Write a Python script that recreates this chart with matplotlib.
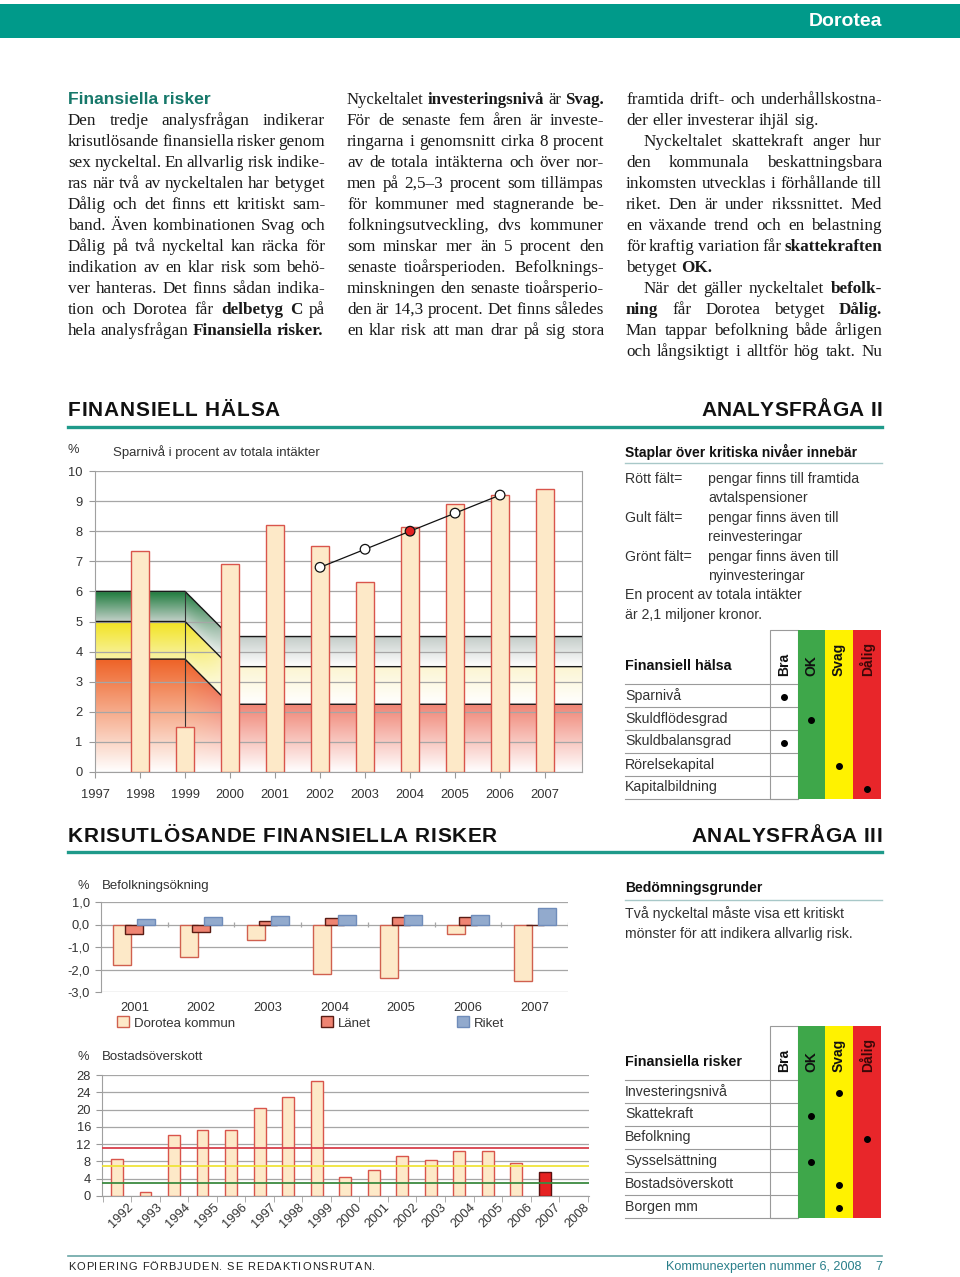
import numpy as np
import matplotlib
matplotlib.use('Agg')
import matplotlib.pyplot as plt
from matplotlib.patches import Rectangle, Patch
from matplotlib.colors import to_rgb
import matplotlib.transforms as mtransforms

# ---------------- data ----------------
spar_years = [1998, 1999, 2000, 2001, 2002, 2003, 2004, 2005, 2006, 2007]
spar_values = [7.35, 1.5, 6.9, 8.2, 7.5, 6.3, 8.15, 8.9, 9.2, 9.4]
trend_years = [2002, 2003, 2004, 2005, 2006]
trend_values = [6.8, 7.4, 8.0, 8.6, 9.2]
band_x = [1997, 1999, 2000, 2008]
red_top = [3.75, 3.75, 2.25, 2.25]
yellow_top = [5.0, 5.0, 3.5, 3.5]
green_top = [6.0, 6.0, 4.5, 4.5]

pop_years = ['2001', '2002', '2003', '2004', '2005', '2006', '2007']
pop_dorotea = [-1.79, -1.45, -0.67, -2.21, -2.38, -0.44, -2.53]
pop_lanet = [-0.42, -0.33, 0.17, 0.29, 0.35, 0.32, -0.03]
pop_riket = [0.24, 0.32, 0.36, 0.41, 0.41, 0.41, 0.73]

bost_years = [str(y) for y in range(1992, 2009)]
bost_values = [8.6, 0.9, 14.2, 15.2, 15.2, 20.4, 23.0, 26.5,
               4.5, 6.0, 9.3, 8.4, 10.4, 10.5, 7.6, 5.5]
bost_levels = [11, 7, 3]

grades = ['Bra', 'OK', 'Svag', 'Dålig']
halsa_items = ['Sparnivå', 'Skuldflödesgrad', 'Skuldbalansgrad',
               'Rörelsekapital', 'Kapitalbildning']
halsa_grades = ['Bra', 'OK', 'Bra', 'Svag', 'Dålig']
risk_items = ['Investeringsnivå', 'Skattekraft', 'Befolkning',
              'Sysselsättning', 'Bostadsöverskott', 'Borgen mm']
risk_grades = ['Svag', 'OK', 'Dålig', 'OK', 'Svag', 'Svag']

col1 = [("Den tredje analysfrågan indikerar", 'j'),
        ("krisutlösande finansiella risker genom", 'j'),
        ("sex nyckeltal. En allvarlig risk indike-", 'j'),
        ("ras när två av nyckeltalen har betyget", 'j'),
        ("Dålig och det finns ett kritiskt sam-", 'j'),
        ("band. Även kombinationen Svag och", 'j'),
        ("Dålig på två nyckeltal kan räcka för", 'j'),
        ("indikation av en klar risk som behö-", 'j'),
        ("ver hanteras. Det finns sådan indika-", 'j'),
        ("tion och Dorotea får *delbetyg* *C* på", 'j'),
        ("hela analysfrågan *Finansiella* *risker.*", 'l')]
col2 = [("Nyckeltalet *investeringsnivå* är *Svag.*", 'j'),
        ("För de senaste fem åren är investe-", 'j'),
        ("ringarna i genomsnitt cirka 8 procent", 'j'),
        ("av de totala intäkterna och över nor-", 'j'),
        ("men på 2,5–3 procent som tillämpas", 'j'),
        ("för kommuner med stagnerande be-", 'j'),
        ("folkningsutveckling, dvs kommuner", 'j'),
        ("som minskar mer än 5 procent den", 'j'),
        ("senaste tioårsperioden. Befolknings-", 'j'),
        ("minskningen den senaste tioårsperio-", 'j'),
        ("den är 14,3 procent. Det finns således", 'j'),
        ("en klar risk att man drar på sig stora", 'j')]
col3 = [("framtida drift- och underhållskostna-", 'j'),
        ("der eller investerar ihjäl sig.", 'l'),
        ("Nyckeltalet skattekraft anger hur", 'i'),
        ("den kommunala beskattningsbara", 'j'),
        ("inkomsten utvecklas i förhållande till", 'j'),
        ("riket. Den är under rikssnittet. Med", 'j'),
        ("en växande trend och en belastning", 'j'),
        ("för kraftig variation får *skattekraften*", 'j'),
        ("betyget *OK.*", 'l'),
        ("När det gäller nyckeltalet *befolk-*", 'i'),
        ("*ning* får Dorotea betyget *Dålig.*", 'j'),
        ("Man tappar befolkning både årligen", 'j'),
        ("och långsiktigt i alltför hög takt. Nu", 'j')]

# ---------------- style ----------------
SERIF = ['Liberation Serif', 'DejaVu Serif']
SANS = ['Liberation Sans', 'DejaVu Sans']
TEAL = '#009a8a'
TXT = '#333333'
GREEN, YELLOW, RED = '#3ea74a', '#fff200', '#e8262a'
BAR_FACE, BAR_EDGE = '#fde9c8', '#d9554c'

plt.rcParams['font.family'] = SANS

W, H = 960, 1277
fig = plt.figure(figsize=(9.6, 12.77), dpi=100)
page = fig.add_axes([0, 0, 1, 1])
page.set_xlim(0, W)
page.set_ylim(H, 0)
page.axis('off')
renderer = fig.canvas.get_renderer()


def axes_px(x, y, w, h):
    return fig.add_axes([x / W, 1 - (y + h) / H, w / W, h / H])


def width_of(s, **kw):
    t = page.text(0, 0, s, **kw)
    w = t.get_window_extent(renderer).width
    t.remove()
    return w


def place(tokens, x0, y, gap, **kw):
    x = x0
    for s, extra in tokens:
        page.text(x, y, s, ha='left', va='center', **kw, **extra)
        x += width_of(s, **kw, **extra) + gap


def spread(tokens, x0, x1, y, **kw):
    widths = [width_of(s, **kw, **extra) for s, extra in tokens]
    gap = (x1 - x0 - sum(widths)) / max(len(tokens) - 1, 1)
    place(tokens, x0, y, gap, **kw)


def body_column(lines, x0, x1, y0, step=21, indent=18, size=12.3):
    for i, (line, mode) in enumerate(lines):
        toks = []
        for wd in line.split(' '):
            if wd.startswith('*') and wd.endswith('*'):
                toks.append((wd.strip('*'), dict(weight='bold')))
            else:
                toks.append((wd, {}))
        y = y0 + i * step
        start = x0 + (indent if mode == 'i' else 0)
        fs = size
        # shrink a line slightly if it would not fit with a minimal word gap
        while True:
            kw = dict(family=SERIF, fontsize=fs, color='#1a1a1a')
            need = sum(width_of(s, **kw, **e) for s, e in toks) + 2.5 * (len(toks) - 1)
            if mode == 'l' or need <= x1 - start or fs < 10:
                break
            fs -= 0.2
        if mode == 'l':
            space = width_of('a a', **kw) - 2 * width_of('a', **kw)
            place(toks, start, y, space, **kw)
        else:
            spread(toks, start, x1, y, **kw)


def heading(text, x0, x1, y):
    toks = [(c, {}) for c in text]
    spread(toks, x0, x1, y, fontsize=15, weight='bold', color='#111111')


# ---------------- page furniture ----------------
page.add_patch(Rectangle((0, 4), W, 34, fc=TEAL, ec='none'))
page.text(882, 21, 'Dorotea', ha='right', va='center', color='white',
          fontsize=14, weight='bold')

page.text(68, 99, 'Finansiella risker', ha='left', va='center', color='#16786a',
          fontsize=12.6, weight='bold')
body_column(col1, 68, 325, 121)
body_column(col2, 347, 604, 100)
body_column(col3, 626, 882, 100)

heading('FINANSIELL HÄLSA', 68, 280, 411)
heading('ANALYSFRÅGA II', 701, 882, 411)
page.plot([68, 882], [427, 427], color='#1f9a8a', lw=2.4)
heading('KRISUTLÖSANDE FINANSIELLA RISKER', 68, 497, 836)
heading('ANALYSFRÅGA III', 691, 882, 836)
page.plot([68, 882], [852, 852], color='#1f9a8a', lw=2.4)

page.plot([68, 882], [1256, 1256], color='#6aa6a6', lw=1.2)
spread([(c, {}) for c in 'KOPIERING FÖRBJUDEN. SE REDAKTIONSRUTAN.'], 68, 375, 1267,
       fontsize=8, color='#222222')
page.text(862, 1267, 'Kommunexperten nummer 6, 2008', ha='right', va='center',
          fontsize=9.1, color='#2a7f8a')
page.text(882, 1267, '7', ha='right', va='center', fontsize=9, color='#2a7f8a')

# ---------------- right-side texts ----------------
lab = dict(fontsize=10.2, color=TXT, va='center', ha='left')
page.text(625, 452, 'Staplar över kritiska nivåer innebär', weight='bold',
          fontsize=10, color='#111111', va='center')
page.plot([625, 882], [463, 463], color='#a8c8c8', lw=1)
legend_rows = [('Rött fält=', 'pengar finns till framtida', 479),
               ('', 'avtalspensioner', 498),
               ('Gult fält=', 'pengar finns även till', 518),
               ('', 'reinvesteringar', 537),
               ('Grönt fält=', 'pengar finns även till', 557),
               ('', 'nyinvesteringar', 576)]
for a, b, y in legend_rows:
    page.text(625, y, a, **lab)
    page.text(708, y, b, **lab)
page.text(625, 595, 'En procent av totala intäkter', **lab)
page.text(625, 615, 'är 2,1 miljoner kronor.', **lab)

page.text(625, 888, 'Bedömningsgrunder', weight='bold', fontsize=10,
          color='#111111', va='center')
page.plot([625, 882], [900, 900], color='#a8c8c8', lw=1)
page.text(625, 914, 'Två nyckeltal måste visa ett kritiskt', **lab)
page.text(625, 934, 'mönster för att indikera allvarlig risk.', **lab)


def grade_table(items, rated, title, top, head_h=54, row_h=23):
    cols = [770, 797.5, 825, 853, 881]
    fills = ['white', GREEN, YELLOW, RED]
    bottom = top + head_h + row_h * len(items)
    for k in range(len(items) + 1):
        y = top + head_h + k * row_h
        page.plot([625, 797.5], [y, y], color='#9a9a9a', lw=0.8, zorder=1)
    for i, c in enumerate(fills):
        page.add_patch(Rectangle((cols[i], top), cols[i + 1] - cols[i], bottom - top,
                                 fc=c, ec='#9a9a9a' if i == 0 else 'none',
                                 lw=0.8, zorder=0.5 if i == 0 else 2))
    page.text(625, top + head_h - 18, title, weight='bold', fontsize=10.3,
              color='#111111', va='center')
    for g, c0, c1 in zip(grades, cols[:-1], cols[1:]):
        page.text((c0 + c1) / 2, top + head_h - 8, g, rotation=90, ha='left', va='center',
                  rotation_mode='anchor', weight='bold', fontsize=10,
                  color='#3a0808' if g == 'Dålig' else '#111111', zorder=3)
    for k, (item, g) in enumerate(zip(items, rated)):
        yc = top + head_h + row_h * (k + 0.5)
        page.text(625, yc, item, **lab)
        j = grades.index(g)
        page.plot((cols[j] + cols[j + 1]) / 2, yc + 1, 'o', color='black', ms=4, zorder=4)


grade_table(halsa_items, halsa_grades, 'Finansiell hälsa', 630)
grade_table(risk_items, risk_grades, 'Finansiella risker', 1026)

# ---------------- chart 1: Sparnivå ----------------
tick_kw = dict(colors='#999999', labelcolor=TXT, labelsize=9.3)
ax1 = axes_px(95, 471, 487, 301)
x_end = 2007.82
ax1.set_xlim(1997, x_end)
ax1.set_ylim(0, 10)

xs = np.linspace(1997, x_end, 700)
ys = np.linspace(0, 6, 500)
X, Y = np.meshgrid(xs, ys)
s = np.clip(X - 1999, 0, 1)[..., None]
rt = np.interp(X, band_x, red_top)
yt = np.interp(X, band_x, yellow_top)
gt = np.interp(X, band_x, green_top)
img = np.zeros(X.shape + (4,))
bands = [  # lower, upper, (left bottom, left top), (right bottom, right top)
    (np.zeros_like(X), rt, ('#ffffff', '#ee6226'), ('#ffffff', '#f08474')),
    (rt, yt, ('#f8f3a6', '#f2e31f'), ('#ffffff', '#fcf5d2')),
    (yt, gt, ('#c2d0c8', '#1c7a3b'), ('#ffffff', '#c3ccc8')),
]
for lo, hi, lc, rc in bands:
    t = ((Y - lo) / (hi - lo))[..., None]
    bot = (1 - s) * np.array(to_rgb(lc[0])) + s * np.array(to_rgb(rc[0]))
    topc = (1 - s) * np.array(to_rgb(lc[1])) + s * np.array(to_rgb(rc[1]))
    col = bot + np.clip(t, 0, 1) * (topc - bot)
    mask = (Y >= lo) & (Y <= hi)
    img[mask, :3] = col[mask]
    img[mask, 3] = 1
ax1.imshow(img, extent=[1997, x_end, 0, 6], origin='lower', aspect='auto',
           zorder=0.1, interpolation='bilinear')
for tops in (red_top, yellow_top, green_top):
    ax1.plot(band_x, tops, color='#1a1a1a', lw=1, zorder=1)
ax1.plot([band_x[1], band_x[1]], [0, green_top[1]], color='#333333', lw=0.8, zorder=1)

ax1.bar(spar_years, spar_values, width=0.4, color=BAR_FACE, edgecolor=BAR_EDGE,
        lw=1, zorder=3)
ax1.plot(trend_years, trend_values, color='#111111', lw=0.9, zorder=4)
mfc = ['#e32222' if y == 2004 else 'white' for y in trend_years]
ax1.scatter(trend_years, trend_values, s=48, c=mfc, edgecolors='#111111',
            linewidths=0.9, zorder=5)

ax1.set_yticks(range(0, 11))
ax1.set_xticks(range(1997, 2008))
ax1.yaxis.grid(True, color='#a6a6a6', lw=0.9)
ax1.set_axisbelow(True)
ax1.tick_params(axis='y', length=4, pad=5, **tick_kw)
ax1.tick_params(axis='x', length=4, pad=8, **tick_kw)
for side in ('left', 'bottom', 'right'):
    ax1.spines[side].set_color('#a0a0a0')
ax1.spines['top'].set_visible(False)
page.text(68, 450, '%', fontsize=9.3, color=TXT, va='center')
page.text(113, 452, 'Sparnivå i procent av totala intäkter', fontsize=9.5,
          color=TXT, va='center')

# ---------------- chart 2: Befolkningsökning ----------------
ax2 = axes_px(101, 902, 467, 90)
pos = np.arange(len(pop_years))
ax2.bar(pos - 0.18, pop_dorotea, width=0.27, color=BAR_FACE, edgecolor='#d0604f',
        lw=1, zorder=3)
ax2.bar(pos, pop_lanet, width=0.27, color='#ef8472', edgecolor='#5a1c14', lw=1, zorder=4)
ax2.bar(pos + 0.18, pop_riket, width=0.27, color='#92aacd', edgecolor='#6f8cba',
        lw=1, zorder=5)
ax2.set_xlim(-0.5, len(pop_years) - 0.5)
ax2.set_ylim(-3, 1)
ax2.set_yticks([1, 0, -1, -2, -3])
ax2.set_yticklabels(['1,0', '0,0', '-1,0', '-2,0', '-3,0'])
ax2.set_xticks(pos)
ax2.set_xticklabels(pop_years)
ax2.yaxis.grid(True, color='#a6a6a6', lw=0.9)
ax2.set_axisbelow(True)
ax2.vlines(np.arange(-0.5, len(pop_years)), -0.12, 0.12, color='#a6a6a6', lw=0.9, zorder=1)
ax2.tick_params(axis='y', length=4, pad=4, **tick_kw)
ax2.tick_params(axis='x', length=0, pad=7, **tick_kw)
for side in ('top', 'right', 'bottom'):
    ax2.spines[side].set_visible(False)
ax2.spines['left'].set_color('#a0a0a0')
page.text(77, 886, '%', fontsize=9.3, color=TXT, va='center')
page.text(102, 886, 'Befolkningsökning', fontsize=9.5, color=TXT, va='center')
handles = [Patch(fc=BAR_FACE, ec='#d0604f'), Patch(fc='#ef8472', ec='#5a1c14'),
           Patch(fc='#92aacd', ec='#6f8cba')]
fig.legend(handles, ['Dorotea kommun', 'Länet', 'Riket'], loc='center left',
           bbox_to_anchor=(117 / W, 1 - 1023 / H), ncol=3, frameon=False,
           handlelength=0.9, handleheight=0.9, handletextpad=0.4, columnspacing=6.5,
           fontsize=9.5, borderpad=0, borderaxespad=0, labelcolor=TXT)

# ---------------- chart 3: Bostadsöverskott ----------------
ax3 = axes_px(102, 1075, 487, 121)
bpos = np.arange(len(bost_values))
bcol = [BAR_FACE] * len(bost_values)
bedge = [BAR_EDGE] * len(bost_values)
bcol[-1], bedge[-1] = '#e52222', '#5a1010'
ax3.bar(bpos, bost_values, width=0.41, color=bcol, edgecolor=bedge, lw=1, zorder=3)
for lvl, c in zip(bost_levels, ['#d8404c', '#efe43a', '#3c8a40']):
    ax3.axhline(lvl, color=c, lw=1.3, zorder=4)
ax3.set_xlim(-0.53, len(bost_years) - 0.45)
ax3.set_ylim(0, 28)
ax3.set_yticks(range(0, 29, 4))
ax3.set_xticks(np.arange(len(bost_years)))
ax3.set_xticklabels(bost_years, rotation=45, ha='right', va='top', rotation_mode='anchor')
ax3.set_xticks(np.arange(-0.5, len(bost_years)), minor=True)
ax3.yaxis.grid(True, color='#a6a6a6', lw=0.9)
ax3.set_axisbelow(True)
ax3.tick_params(axis='y', length=4, pad=4, **tick_kw)
ax3.tick_params(axis='x', which='major', length=0, pad=4, **tick_kw)
ax3.tick_params(axis='x', which='minor', length=4, colors='#a0a0a0')
shift = mtransforms.ScaledTranslation(10 / 100, 0, fig.dpi_scale_trans)
for t in ax3.get_xticklabels():
    t.set_transform(t.get_transform() + shift)
for side in ('top', 'right'):
    ax3.spines[side].set_visible(False)
ax3.spines['left'].set_color('#a0a0a0')
ax3.spines['bottom'].set_color('#a0a0a0')
page.text(77, 1057, '%', fontsize=9.3, color=TXT, va='center')
page.text(102, 1057, 'Bostadsöverskott', fontsize=9.5, color=TXT, va='center')

fig.savefig('out.png', dpi=100)
